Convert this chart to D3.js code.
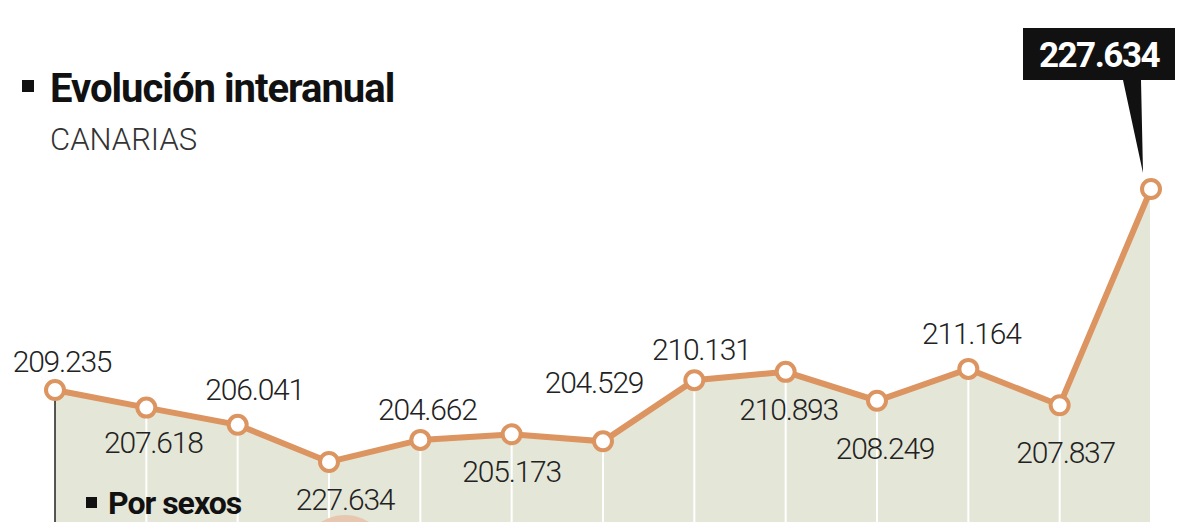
<!DOCTYPE html>
<html><head><meta charset="utf-8">
<script src="https://cdn.jsdelivr.net/npm/d3@7"></script>
<style>body{margin:0;background:#fff}svg{display:block}</style>
</head><body>
<svg id="c" width="1200" height="522"></svg>
<script>
const periods = d3.range(13);
const values = [209.235, 207.618, 206.041, 202.64, 204.662, 205.173, 204.529, 210.131, 210.893, 208.249, 211.164, 207.837, 227.634];
const labels = ["209.235","207.618","206.041","227.634","204.662","205.173","204.529","210.131","210.893","208.249","211.164","207.837",""];
const labelDy = [-18, 45, -25, 48, -20, 48, -48, -20, 48, 58, -25, 58, 0];
const labelDx = [7, 7, 17, 16, 7, 0, -9, 7, 3, 8, 3, 6, 0];

const svg = d3.select("#c");
const font = "Roboto,'Open Sans',sans-serif";
const x = d3.scaleLinear().domain([0, 12]).range([55, 1151]);
const y = d3.scaleLinear().domain([190, 230]).range([600, 163.2]);

svg.append("path").datum(values)
  .attr("fill", "#e4e6d7")
  .attr("d", d3.area().x((d, i) => x(i)).y0(522).y1(d => y(d)));

svg.selectAll(".drop").data(values).join("line")
  .attr("x1", (d, i) => x(i)).attr("x2", (d, i) => x(i))
  .attr("y1", d => y(d)).attr("y2", 522)
  .attr("stroke", (d, i) => i === 0 ? "#222" : "#fff")
  .attr("stroke-width", (d, i) => i === 0 ? 1.5 : 2);

svg.append("path").datum(values)
  .attr("fill", "none").attr("stroke", "#dc9460").attr("stroke-width", 6)
  .attr("d", d3.line().x((d, i) => x(i)).y(d => y(d)));

svg.selectAll(".pt").data(values).join("circle")
  .attr("cx", (d, i) => x(i)).attr("cy", d => y(d)).attr("r", 9)
  .attr("fill", "#fff").attr("stroke", "#dc9460").attr("stroke-width", 4);

svg.selectAll(".lbl").data(values).join("text")
  .attr("x", (d, i) => x(i) + labelDx[i]).attr("y", (d, i) => y(d) + labelDy[i])
  .attr("text-anchor", "middle").attr("font-family", font).attr("font-size", 30)
  .attr("font-weight", 300).attr("letter-spacing", -1.2).attr("fill", "#222")
  .text((d, i) => labels[i]);

// callout for the last value
const lx = x(12), ly = y(values[12]);
svg.append("path").attr("fill", "#111")
  .attr("d", `M${lx - 45},80 L${lx - 10},80 L${lx - 8},${ly - 16} L${lx - 28},80 Z`);
svg.append("rect").attr("x", 1023).attr("y", 28).attr("width", 152).attr("height", 52).attr("fill", "#111");
svg.append("text").attr("x", 1099).attr("y", 67).attr("text-anchor", "middle")
  .attr("font-family", font).attr("font-weight", "bold").attr("font-size", 35).attr("fill", "#fff")
  .attr("letter-spacing", -1.5).text("227.634");

// titles
svg.append("rect").attr("x", 22).attr("y", 80).attr("width", 12).attr("height", 12).attr("fill", "#111");
svg.append("text").attr("x", 50).attr("y", 102).attr("font-family", font).attr("font-weight", "bold")
  .attr("font-size", 40).attr("fill", "#111").attr("letter-spacing", -1).text("Evolución interanual");
svg.append("text").attr("x", 50).attr("y", 150).attr("font-family", font).attr("font-weight", 300)
  .attr("font-size", 31).attr("fill", "#333").text("CANARIAS");

svg.append("circle").attr("cx", 345).attr("cy", 560).attr("r", 45).attr("fill", "#e8c7b0");
svg.append("rect").attr("x", 86).attr("y", 497).attr("width", 11).attr("height", 11).attr("fill", "#111");
svg.append("text").attr("x", 108).attr("y", 514).attr("font-family", font).attr("font-weight", "bold")
  .attr("font-size", 32).attr("fill", "#111").attr("letter-spacing", -1).text("Por sexos");
</script>
</body></html>
